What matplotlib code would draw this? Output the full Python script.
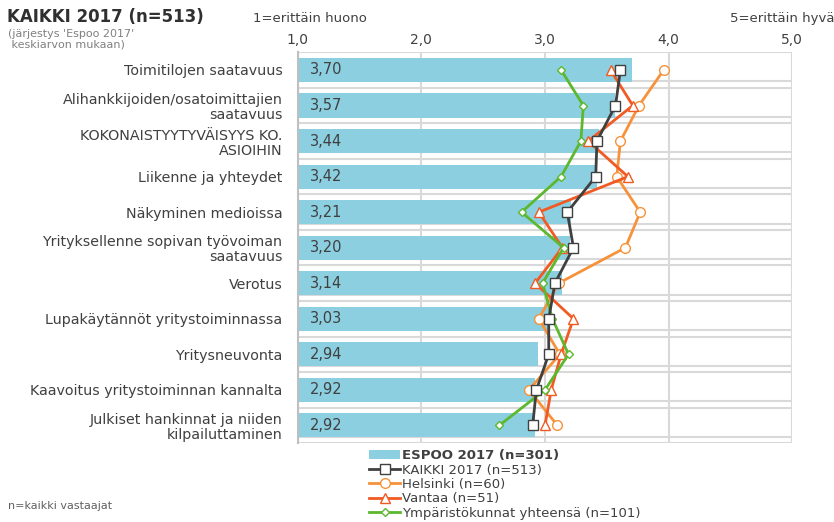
import numpy as np
import matplotlib
matplotlib.use('Agg')
import matplotlib.pyplot as plt
from matplotlib.ticker import FuncFormatter

categories = ['Toimitilojen saatavuus',
              'Alihankkijoiden/osatoimittajien\nsaatavuus',
              'KOKONAISTYYTYVÄISYYS KO.\nASIOIHIN',
              'Liikenne ja yhteydet',
              'Näkyminen medioissa',
              'Yrityksellenne sopivan työvoiman\nsaatavuus',
              'Verotus',
              'Lupakäytännöt yritystoiminnassa',
              'Yritysneuvonta',
              'Kaavoitus yritystoiminnan kannalta',
              'Julkiset hankinnat ja niiden\nkilpailuttaminen']
espoo = [3.70, 3.57, 3.44, 3.42, 3.21, 3.20, 3.14, 3.03, 2.94, 2.92, 2.92]
kaikki = [3.61, 3.57, 3.42, 3.41, 3.18, 3.23, 3.08, 3.03, 3.03, 2.93, 2.90]
helsinki = [3.96, 3.76, 3.61, 3.58, 3.77, 3.65, 3.11, 2.95, 3.12, 2.87, 3.10]
vantaa = [3.53, 3.71, 3.35, 3.67, 2.95, 3.14, 2.92, 3.23, 3.13, 3.05, 3.00]
ymparisto = [3.13, 3.31, 3.29, 3.13, 2.81, 3.15, 2.98, 3.06, 3.19, 3.00, 2.63]
xticks = [1, 2, 3, 4, 5]

plt.rcParams['font.family'] = ['DejaVu Sans']
txt = '#404040'
grid = '#d9d9d9'

fig = plt.figure(figsize=(8.34, 5.22), dpi=100)
ax = fig.add_axes([0.357, 0.151, 0.593, 0.749])

y = np.arange(len(categories))
ax.barh(y, [v - 1 for v in espoo], left=1, height=0.68, color='#8ccfe0',
        zorder=2, label='ESPOO 2017 (n=301)')
for yi, v in zip(y, espoo):
    ax.text(1.1, yi, ('%.2f' % v).replace('.', ','), va='center', ha='left',
            fontsize=10.5, color=txt, zorder=3)

l_h, = ax.plot(helsinki, y, color='#f7923a', lw=2, marker='o', ms=7,
               mfc='white', mec='#f7923a', mew=1, zorder=4,
               label='Helsinki (n=60)')
l_v, = ax.plot(vantaa, y, color='#f15a22', lw=2, marker='^', ms=7,
               mfc='white', mec='#f15a22', mew=1, zorder=5,
               label='Vantaa (n=51)')
l_y, = ax.plot(ymparisto, y, color='#5cb82e', lw=2, marker='D', ms=4.5,
               mfc='white', mec='#5cb82e', mew=1, zorder=6,
               label='Ympäristökunnat yhteensä (n=101)')
l_k, = ax.plot(kaikki, y, color='#404040', lw=2, marker='s', ms=7,
               mfc='white', mec='#404040', mew=1, zorder=7,
               label='KAIKKI 2017 (n=513)')

ax.set_xlim(1, 5)
ax.set_ylim(len(categories) - 0.5, -0.5)

# gridlines (double lines like in the original)
for b in np.arange(-0.5, len(categories), 1):
    ax.axhline(b, color=grid, lw=1.5, zorder=1)
for b in np.arange(0.32, len(categories) - 0.5, 1):
    ax.axhline(b, color=grid, lw=1.5, zorder=1)
for xv in xticks:
    ax.axvline(xv, color=grid, lw=1.5, zorder=1)

ax.xaxis.tick_top()
ax.set_xticks(xticks)
ax.xaxis.set_major_formatter(FuncFormatter(lambda v, p: ('%.1f' % v).replace('.', ',')))
ax.tick_params(axis='x', length=0, labelsize=10, labelcolor=txt, pad=4)
ax.set_yticks(y)
ax.set_yticklabels(categories, fontsize=10.3, color=txt, linespacing=1.1)
ax.tick_params(axis='y', length=0, pad=11)
for s in ['top', 'right', 'bottom']:
    ax.spines[s].set_visible(False)
ax.spines['left'].set_color('#bfbfbf')
ax.spines['left'].set_linewidth(1.5)

fig.text(0.008, 0.985, 'KAIKKI 2017 (n=513)', fontsize=12, fontweight='bold',
         color='#303030', va='top', ha='left')
fig.text(0.01, 0.945, "(järjestys 'Espoo 2017'\n keskiarvon mukaan)", fontsize=8,
         color='#808080', va='top', ha='left', linespacing=1.05)
fig.text(0.372, 0.965, '1=erittäin huono', fontsize=9.5, color=txt,
         ha='center', va='center')
fig.text(1.0, 0.965, '5=erittäin hyvä', fontsize=9.5, color=txt,
         ha='right', va='center')
fig.text(0.01, 0.022, 'n=kaikki vastaajat', fontsize=8, color='#606060',
         ha='left', va='bottom')

bar_handle = ax.containers[0]
leg = fig.legend([bar_handle, l_k, l_h, l_v, l_y],
                 ['ESPOO 2017 (n=301)', 'KAIKKI 2017 (n=513)', 'Helsinki (n=60)',
                  'Vantaa (n=51)', 'Ympäristökunnat yhteensä (n=101)'],
                 loc='upper left', bbox_to_anchor=(0.435, 0.152), frameon=False,
                 fontsize=9.5, labelspacing=0.1, handlelength=2.3,
                 handletextpad=0.2, borderpad=0, labelcolor=txt)
leg.get_texts()[0].set_fontweight('bold')

fig.savefig('out.png', dpi=100)
